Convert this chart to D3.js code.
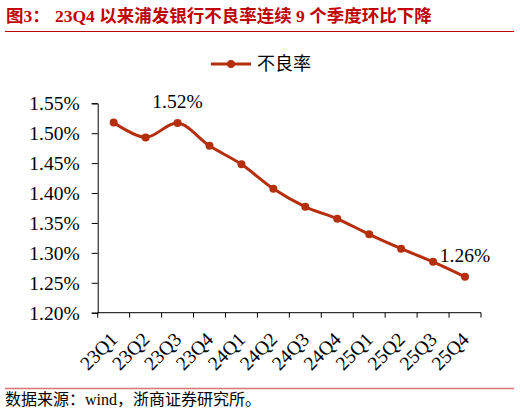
<!DOCTYPE html>
<html>
<head>
<meta charset="utf-8">
<script src="https://cdn.jsdelivr.net/npm/d3@7"></script>
<style>
  body { margin: 0; background: #fff; }
  svg text { font-family: "Times New Roman", "Liberation Serif", "Noto Sans CJK SC", serif; }
</style>
</head>
<body>
<svg id="chart"></svg>
<script>
// data
const quarters = ["23Q1", "23Q2", "23Q3", "23Q4", "24Q1", "24Q2", "24Q3", "24Q4", "25Q1", "25Q2", "25Q3", "25Q4"];
const nplRatio = [1.518, 1.493, 1.517, 1.479, 1.448, 1.407, 1.377, 1.357, 1.331, 1.307, 1.285, 1.26];
const yTicks = [1.20, 1.25, 1.30, 1.35, 1.40, 1.45, 1.50, 1.55];
const labelled = {"23Q3": "1.52%", "25Q4": "1.26%"};
const seriesName = "不良率";
const titleHead = "图3：";
const titleText = "23Q4 以来浦发银行不良率连续 9 个季度环比下降";
const sourceText = "数据来源：wind，浙商证券研究所。";

var W = 520, H = 413;
var margin = {top: 103.3, left: 97.7, right: 39, bottom: 100};
var lineColor = "#B52F0C";

var svg = d3.select("#chart").attr("width", W).attr("height", H);

// title
var title = svg.append("text")
  .attr("x", 6).attr("y", 22)
  .attr("fill", "#C00000")
  .attr("font-weight", "bold")
  .attr("font-size", 17.5);
title.append("tspan").text(titleHead);
title.append("tspan").attr("x", 55).text(titleText);

svg.append("line")
  .attr("x1", 5).attr("x2", 514)
  .attr("y1", 31.5).attr("y2", 31.5)
  .attr("stroke", "#C00000").attr("stroke-width", 1);

var x = d3.scaleBand()
  .domain(quarters)
  .range([margin.left, 481]);

var y = d3.scaleLinear()
  .domain([1.20, 1.55])
  .range([312.7, margin.top]);

// y axis
var yAxis = svg.append("g")
  .attr("transform", "translate(" + margin.left + ",0)")
  .call(d3.axisLeft(y).tickValues(yTicks).tickSize(6).tickPadding(12)
    .tickFormat(d => d.toFixed(2) + "%"));
yAxis.select(".domain").attr("stroke", "#000");
yAxis.selectAll("text")
  .attr("font-size", 19.5)
  .attr("fill", "#000")
  .attr("dy", "0.34em");

// x axis, ticks on band edges
var xAxis = svg.append("g")
  .attr("transform", "translate(0," + y(1.20) + ")");
xAxis.append("line")
  .attr("x1", margin.left).attr("x2", 481)
  .attr("stroke", "#000");
xAxis.selectAll(".edge")
  .data(quarters.concat(["end"]))
  .enter().append("line")
  .attr("class", "edge")
  .attr("x1", (d, i) => margin.left + i * x.bandwidth())
  .attr("x2", (d, i) => margin.left + i * x.bandwidth())
  .attr("y1", 0).attr("y2", 5)
  .attr("stroke", "#000");
xAxis.selectAll(".lab")
  .data(quarters)
  .enter().append("text")
  .attr("class", "lab")
  .attr("transform", d => "translate(" + (x(d) + x.bandwidth() / 2 + 5) + ",28) rotate(-45)")
  .attr("text-anchor", "end")
  .attr("font-size", 19.5)
  .attr("fill", "#000")
  .text(d => d);

// line
var pts = quarters.map((q, i) => ({q: q, v: nplRatio[i]}));
var line = d3.line()
  .x(d => x(d.q) + x.bandwidth() / 2)
  .y(d => y(d.v))
  .curve(d3.curveCatmullRom.alpha(0.5));

svg.append("path")
  .datum(pts)
  .attr("d", line)
  .attr("fill", "none")
  .attr("stroke", lineColor)
  .attr("stroke-width", 3);

svg.selectAll(".dot")
  .data(pts)
  .enter().append("circle")
  .attr("class", "dot")
  .attr("cx", d => x(d.q) + x.bandwidth() / 2)
  .attr("cy", d => y(d.v))
  .attr("r", 4)
  .attr("fill", lineColor);

svg.selectAll(".vlab")
  .data(pts.filter(d => labelled[d.q]))
  .enter().append("text")
  .attr("class", "vlab")
  .attr("x", d => x(d.q) + x.bandwidth() / 2)
  .attr("y", d => y(d.v) - 15)
  .attr("text-anchor", "middle")
  .attr("font-size", 19.5)
  .attr("fill", "#000")
  .text(d => labelled[d.q]);

// legend
var lg = svg.append("g").attr("transform", "translate(211,64)");
lg.append("line").attr("x1", 0).attr("x2", 40)
  .attr("stroke", lineColor).attr("stroke-width", 3);
lg.append("circle").attr("cx", 20).attr("r", 4).attr("fill", lineColor);
lg.append("text").attr("x", 46).attr("dy", "0.35em")
  .attr("font-size", 18).attr("fill", "#000")
  .text(seriesName);

// footer
svg.append("line")
  .attr("x1", 5).attr("x2", 514)
  .attr("y1", 388.5).attr("y2", 388.5)
  .attr("stroke", "#DC7474").attr("stroke-width", 1.3);
svg.append("text")
  .attr("x", 5).attr("y", 405)
  .attr("font-size", 16)
  .attr("fill", "#000")
  .text(sourceText);
</script>
</body>
</html>
